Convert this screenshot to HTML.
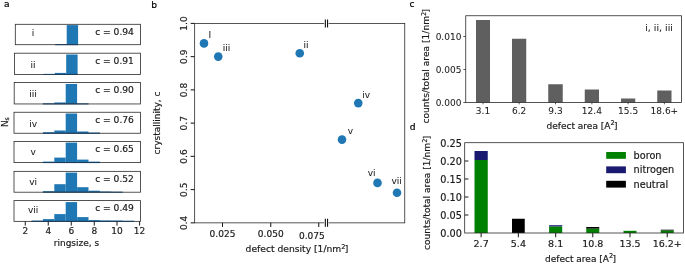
<!DOCTYPE html>
<html lang="en">
<head>
<meta charset="utf-8">
<title>Figure: crystallinity and defect statistics</title>
<style>
html,body{margin:0;padding:0;background:#fff;}
body{width:685px;height:264px;overflow:hidden;}
svg{display:block;font-family:"DejaVu Sans","Liberation Sans",sans-serif;}
text{fill:#1a1a1a;stroke:#1a1a1a;stroke-width:0.18px;}
text.rn{stroke-width:0.05px;}
text.pl{fill:#000;stroke:#000;stroke-width:0.2px;}
</style>
</head>
<body>
<svg width="685" height="264" viewBox="0 0 685 264">
<rect x="0" y="0" width="685" height="264" fill="#ffffff"/>
<text class="pl" x="3.9" y="7.0" font-size="9.1">a</text>
<rect x="55.30" y="44.10" width="11.40" height="0.60" fill="#1f77b4"/>
<rect x="66.70" y="25.10" width="11.40" height="19.60" fill="#1f77b4"/>
<rect x="15.3" y="24.3" width="125.20" height="20.40" fill="none" stroke="#2a2a2a" stroke-width="0.8"/>
<line x1="55.3" y1="44.7" x2="78.1" y2="44.7" stroke="#173a5c" stroke-width="0.9"/>
<text x="33.1" y="36.45" font-size="9.0" text-anchor="middle" class="rn">i</text>
<text x="95.2" y="35.05" font-size="9.12" text-anchor="start">c = 0.94</text>
<rect x="43.40" y="74.00" width="11.40" height="0.40" fill="#1f77b4"/>
<rect x="54.80" y="72.90" width="11.40" height="1.50" fill="#1f77b4"/>
<rect x="66.20" y="54.50" width="11.40" height="19.90" fill="#1f77b4"/>
<rect x="14.4" y="53.2" width="126.10" height="21.20" fill="none" stroke="#2a2a2a" stroke-width="0.8"/>
<line x1="43.4" y1="74.4" x2="77.6" y2="74.4" stroke="#173a5c" stroke-width="0.9"/>
<text x="33.1" y="67.95" font-size="9.0" text-anchor="middle" class="rn">ii</text>
<text x="95.2" y="64.0" font-size="9.12" text-anchor="start">c = 0.91</text>
<rect x="42.90" y="103.55" width="11.40" height="0.40" fill="#1f77b4"/>
<rect x="54.30" y="102.45" width="11.40" height="1.50" fill="#1f77b4"/>
<rect x="65.70" y="83.95" width="11.40" height="20.00" fill="#1f77b4"/>
<rect x="77.10" y="103.65" width="11.40" height="0.30" fill="#1f77b4"/>
<rect x="14.2" y="82.5" width="126.30" height="21.45" fill="none" stroke="#2a2a2a" stroke-width="0.8"/>
<line x1="42.9" y1="103.95" x2="88.5" y2="103.95" stroke="#173a5c" stroke-width="0.9"/>
<text x="33.1" y="97.15" font-size="9.0" text-anchor="middle" class="rn">iii</text>
<text x="95.2" y="93.4" font-size="9.12" text-anchor="start">c = 0.90</text>
<rect x="42.90" y="132.25" width="11.40" height="1.00" fill="#1f77b4"/>
<rect x="54.30" y="130.50" width="11.40" height="2.75" fill="#1f77b4"/>
<rect x="65.70" y="113.50" width="11.40" height="19.75" fill="#1f77b4"/>
<rect x="77.10" y="131.50" width="11.40" height="1.75" fill="#1f77b4"/>
<rect x="88.50" y="132.65" width="11.40" height="0.60" fill="#1f77b4"/>
<rect x="14.0" y="112.25" width="126.50" height="21.00" fill="none" stroke="#2a2a2a" stroke-width="0.8"/>
<line x1="42.9" y1="133.25" x2="99.9" y2="133.25" stroke="#173a5c" stroke-width="0.9"/>
<text x="33.1" y="127.35" font-size="9.0" text-anchor="middle" class="rn">iv</text>
<text x="95.2" y="122.85" font-size="9.12" text-anchor="start">c = 0.76</text>
<rect x="42.90" y="161.60" width="11.40" height="1.00" fill="#1f77b4"/>
<rect x="54.30" y="157.60" width="11.40" height="5.00" fill="#1f77b4"/>
<rect x="65.70" y="142.60" width="11.40" height="20.00" fill="#1f77b4"/>
<rect x="77.10" y="159.60" width="11.40" height="3.00" fill="#1f77b4"/>
<rect x="88.50" y="161.60" width="11.40" height="1.00" fill="#1f77b4"/>
<rect x="14.0" y="141.55" width="126.50" height="21.05" fill="none" stroke="#2a2a2a" stroke-width="0.8"/>
<line x1="42.9" y1="162.6" x2="99.9" y2="162.6" stroke="#173a5c" stroke-width="0.9"/>
<text x="33.1" y="154.9" font-size="9.0" text-anchor="middle" class="rn">v</text>
<text x="95.2" y="152.15" font-size="9.12" text-anchor="start">c = 0.65</text>
<rect x="42.90" y="191.20" width="11.40" height="1.00" fill="#1f77b4"/>
<rect x="54.30" y="184.20" width="11.40" height="8.00" fill="#1f77b4"/>
<rect x="65.70" y="172.60" width="11.40" height="19.60" fill="#1f77b4"/>
<rect x="77.10" y="187.20" width="11.40" height="5.00" fill="#1f77b4"/>
<rect x="88.50" y="190.70" width="11.40" height="1.50" fill="#1f77b4"/>
<rect x="99.90" y="191.60" width="11.40" height="0.60" fill="#1f77b4"/>
<rect x="111.30" y="191.90" width="11.40" height="0.30" fill="#1f77b4"/>
<rect x="14.0" y="171.35" width="126.50" height="20.85" fill="none" stroke="#2a2a2a" stroke-width="0.8"/>
<line x1="42.9" y1="192.2" x2="122.7" y2="192.2" stroke="#173a5c" stroke-width="0.9"/>
<text x="33.1" y="185.25" font-size="9.0" text-anchor="middle" class="rn">vi</text>
<text x="95.2" y="181.6" font-size="9.12" text-anchor="start">c = 0.52</text>
<rect x="31.50" y="220.60" width="11.40" height="0.75" fill="#1f77b4"/>
<rect x="42.90" y="219.10" width="11.40" height="2.25" fill="#1f77b4"/>
<rect x="54.30" y="214.10" width="11.40" height="7.25" fill="#1f77b4"/>
<rect x="65.70" y="202.10" width="11.40" height="19.25" fill="#1f77b4"/>
<rect x="77.10" y="217.10" width="11.40" height="4.25" fill="#1f77b4"/>
<rect x="88.50" y="220.10" width="11.40" height="1.25" fill="#1f77b4"/>
<rect x="99.90" y="220.45" width="11.40" height="0.90" fill="#1f77b4"/>
<rect x="111.30" y="220.55" width="11.40" height="0.80" fill="#1f77b4"/>
<rect x="122.70" y="220.85" width="11.40" height="0.50" fill="#1f77b4"/>
<rect x="14.0" y="200.6" width="126.50" height="20.75" fill="none" stroke="#2a2a2a" stroke-width="0.8"/>
<line x1="31.5" y1="221.35" x2="134.1" y2="221.35" stroke="#173a5c" stroke-width="0.9"/>
<text x="33.1" y="213.05" font-size="9.0" text-anchor="middle" class="rn">vii</text>
<text x="95.2" y="210.79999999999998" font-size="9.12" text-anchor="start">c = 0.49</text>
<line x1="25.25" y1="221.35" x2="25.25" y2="225.6" stroke="#1a1a1a" stroke-width="1.0"/>
<text x="25.25" y="234.0" font-size="9.0" text-anchor="middle">2</text>
<line x1="48.25" y1="221.35" x2="48.25" y2="225.6" stroke="#1a1a1a" stroke-width="1.0"/>
<text x="48.25" y="234.0" font-size="9.0" text-anchor="middle">4</text>
<line x1="71.25" y1="221.35" x2="71.25" y2="225.6" stroke="#1a1a1a" stroke-width="1.0"/>
<text x="71.25" y="234.0" font-size="9.0" text-anchor="middle">6</text>
<line x1="94.25" y1="221.35" x2="94.25" y2="225.6" stroke="#1a1a1a" stroke-width="1.0"/>
<text x="94.25" y="234.0" font-size="9.0" text-anchor="middle">8</text>
<line x1="117.0" y1="221.35" x2="117.0" y2="225.6" stroke="#1a1a1a" stroke-width="1.0"/>
<text x="117.0" y="234.0" font-size="9.0" text-anchor="middle">10</text>
<line x1="139.6" y1="221.35" x2="139.6" y2="225.6" stroke="#1a1a1a" stroke-width="1.0"/>
<text x="139.6" y="234.0" font-size="9.0" text-anchor="middle">12</text>
<text x="76.5" y="246.0" font-size="9.0" text-anchor="middle">ringsize, s</text>
<text x="7.7" y="122.1" font-size="9.0" text-anchor="middle" transform="rotate(-90 7.7 122.1)">N<tspan dy="1.4" font-size="6.3">s</tspan></text>
<text class="pl" x="151.3" y="8.0" font-size="9.1">b</text>
<rect x="194.65" y="23.4" width="210.10" height="199.45" fill="none" stroke="#2a2a2a" stroke-width="0.8"/>
<line x1="190.65" y1="23.4" x2="194.65" y2="23.4" stroke="#1a1a1a" stroke-width="1.05"/>
<text x="187.35" y="23.5" font-size="9.0" text-anchor="middle" transform="rotate(-90 187.35 23.5)">1.0</text>
<line x1="190.65" y1="56.64" x2="194.65" y2="56.64" stroke="#1a1a1a" stroke-width="1.05"/>
<text x="187.35" y="56.74" font-size="9.0" text-anchor="middle" transform="rotate(-90 187.35 56.74)">0.9</text>
<line x1="190.65" y1="89.88" x2="194.65" y2="89.88" stroke="#1a1a1a" stroke-width="1.05"/>
<text x="187.35" y="89.97999999999999" font-size="9.0" text-anchor="middle" transform="rotate(-90 187.35 89.97999999999999)">0.8</text>
<line x1="190.65" y1="123.12" x2="194.65" y2="123.12" stroke="#1a1a1a" stroke-width="1.05"/>
<text x="187.35" y="123.22" font-size="9.0" text-anchor="middle" transform="rotate(-90 187.35 123.22)">0.7</text>
<line x1="190.65" y1="156.36" x2="194.65" y2="156.36" stroke="#1a1a1a" stroke-width="1.05"/>
<text x="187.35" y="156.46" font-size="9.0" text-anchor="middle" transform="rotate(-90 187.35 156.46)">0.6</text>
<line x1="190.65" y1="189.60000000000002" x2="194.65" y2="189.60000000000002" stroke="#1a1a1a" stroke-width="1.05"/>
<text x="187.35" y="189.70000000000002" font-size="9.0" text-anchor="middle" transform="rotate(-90 187.35 189.70000000000002)">0.5</text>
<line x1="190.65" y1="222.84" x2="194.65" y2="222.84" stroke="#1a1a1a" stroke-width="1.05"/>
<text x="187.35" y="222.94" font-size="9.0" text-anchor="middle" transform="rotate(-90 187.35 222.94)">0.4</text>
<text x="160.3" y="123" font-size="9.0" text-anchor="middle" transform="rotate(-90 160.3 123)">crystallinity, c</text>
<line x1="222.5" y1="222.85" x2="222.5" y2="226.95" stroke="#1a1a1a" stroke-width="1.05"/>
<text x="222.5" y="236.7" font-size="9.0" text-anchor="middle">0.025</text>
<line x1="270.75" y1="222.85" x2="270.75" y2="226.95" stroke="#1a1a1a" stroke-width="1.05"/>
<text x="270.75" y="236.7" font-size="9.0" text-anchor="middle">0.050</text>
<line x1="318.75" y1="222.85" x2="318.75" y2="226.95" stroke="#1a1a1a" stroke-width="1.05"/>
<text x="311.9" y="239.0" font-size="9.0" text-anchor="middle">0.075</text>
<text x="297" y="251.9" font-size="9.18" text-anchor="middle">defect density [1/nm<tspan dy="-3.4" font-size="6.6">2</tspan><tspan dy="3.4" dx="-0.7">]</tspan></text>
<rect x="324.20" y="22.20" width="4.40" height="2.40" fill="#fff"/>
<line x1="325.35" y1="19.4" x2="325.35" y2="27.4" stroke="#111" stroke-width="1.1"/>
<line x1="327.55" y1="19.4" x2="327.55" y2="27.4" stroke="#111" stroke-width="1.1"/>
<rect x="324.20" y="221.65" width="4.40" height="2.40" fill="#fff"/>
<line x1="325.35" y1="218.85" x2="325.35" y2="226.85" stroke="#111" stroke-width="1.1"/>
<line x1="327.55" y1="218.85" x2="327.55" y2="226.85" stroke="#111" stroke-width="1.1"/>
<circle cx="204" cy="43.4" r="4.3" fill="#1f77b4"/>
<text x="208.6" y="38.2" font-size="9.0" text-anchor="start" class="rn">I</text>
<circle cx="218.25" cy="56.6" r="4.3" fill="#1f77b4"/>
<text x="222.8" y="50.8" font-size="9.0" text-anchor="start" class="rn">iii</text>
<circle cx="299.75" cy="53.3" r="4.3" fill="#1f77b4"/>
<text x="303.6" y="48.0" font-size="9.0" text-anchor="start" class="rn">ii</text>
<circle cx="358.25" cy="103.1" r="4.3" fill="#1f77b4"/>
<text x="362.3" y="98.0" font-size="9.0" text-anchor="start" class="rn">iv</text>
<circle cx="342" cy="139.6" r="4.3" fill="#1f77b4"/>
<text x="347.8" y="133.5" font-size="9.0" text-anchor="start" class="rn">v</text>
<circle cx="377.5" cy="182.9" r="4.3" fill="#1f77b4"/>
<text x="367.8" y="176.0" font-size="9.0" text-anchor="start" class="rn">vi</text>
<circle cx="397" cy="192.7" r="4.3" fill="#1f77b4"/>
<text x="391.5" y="183.8" font-size="9.0" text-anchor="start" class="rn">vii</text>
<text class="pl" x="409.6" y="7.0" font-size="9.1">c</text>
<rect x="476.00" y="20.00" width="14.00" height="82.50" fill="#5f5f5f"/>
<rect x="512.00" y="38.75" width="14.25" height="63.75" fill="#5f5f5f"/>
<rect x="548.25" y="84.25" width="14.50" height="18.25" fill="#5f5f5f"/>
<rect x="584.75" y="89.50" width="14.25" height="13.00" fill="#5f5f5f"/>
<rect x="621.00" y="98.50" width="14.25" height="4.00" fill="#5f5f5f"/>
<rect x="657.25" y="90.50" width="14.25" height="12.00" fill="#5f5f5f"/>
<rect x="465.75" y="15.75" width="215.75" height="86.75" fill="none" stroke="#2a2a2a" stroke-width="0.8"/>
<line x1="463.35" y1="102.5" x2="465.75" y2="102.5" stroke="#2a2a2a" stroke-width="0.8"/>
<text x="461.4" y="106.4" font-size="9.0" text-anchor="end" class="rn">0.000</text>
<line x1="463.35" y1="69.5" x2="465.75" y2="69.5" stroke="#2a2a2a" stroke-width="0.8"/>
<text x="461.4" y="73.4" font-size="9.0" text-anchor="end" class="rn">0.005</text>
<line x1="463.35" y1="36.5" x2="465.75" y2="36.5" stroke="#2a2a2a" stroke-width="0.8"/>
<text x="461.4" y="40.4" font-size="9.0" text-anchor="end" class="rn">0.010</text>
<line x1="483.0" y1="102.5" x2="483.0" y2="104.3" stroke="#2a2a2a" stroke-width="0.8"/>
<text x="483.0" y="114.05" font-size="9.0" text-anchor="middle" class="rn">3.1</text>
<line x1="519.125" y1="102.5" x2="519.125" y2="104.3" stroke="#2a2a2a" stroke-width="0.8"/>
<text x="519.125" y="114.05" font-size="9.0" text-anchor="middle" class="rn">6.2</text>
<line x1="555.5" y1="102.5" x2="555.5" y2="104.3" stroke="#2a2a2a" stroke-width="0.8"/>
<text x="555.5" y="114.05" font-size="9.0" text-anchor="middle" class="rn">9.3</text>
<line x1="591.875" y1="102.5" x2="591.875" y2="104.3" stroke="#2a2a2a" stroke-width="0.8"/>
<text x="591.875" y="114.05" font-size="9.0" text-anchor="middle" class="rn">12.4</text>
<line x1="628.125" y1="102.5" x2="628.125" y2="104.3" stroke="#2a2a2a" stroke-width="0.8"/>
<text x="628.125" y="114.05" font-size="9.0" text-anchor="middle" class="rn">15.5</text>
<line x1="664.375" y1="102.5" x2="664.375" y2="104.3" stroke="#2a2a2a" stroke-width="0.8"/>
<text x="664.375" y="114.05" font-size="9.0" text-anchor="middle" class="rn">18.6+</text>
<text x="582" y="128.5" font-size="9.0" text-anchor="middle">defect area [A<tspan dy="-3.4" font-size="6.6">2</tspan><tspan dy="3.4" dx="-0.7">]</tspan></text>
<text x="429.2" y="66.2" font-size="9.13" text-anchor="middle" transform="rotate(-90 429.2 66.2)">counts/total area [1/nm<tspan dy="-3.4" font-size="6.6">2</tspan><tspan dy="3.4" dx="-0.7">]</tspan></text>
<text x="672.9" y="30.9" font-size="9.45" text-anchor="end" class="rn">i, ii, iii</text>
<text class="pl" x="409.8" y="129.6" font-size="9.1">d</text>
<rect x="474.50" y="160.00" width="13.25" height="73.00" fill="#008000"/>
<rect x="474.50" y="151.00" width="13.25" height="9.00" fill="#191970"/>
<rect x="512.00" y="218.75" width="12.75" height="14.25" fill="#000"/>
<rect x="549.10" y="226.40" width="13.10" height="6.60" fill="#008000"/>
<rect x="549.10" y="225.20" width="13.10" height="1.20" fill="#191970"/>
<rect x="586.25" y="228.60" width="13.00" height="4.40" fill="#008000"/>
<rect x="586.25" y="227.00" width="13.00" height="1.60" fill="#000"/>
<rect x="623.50" y="230.80" width="13.00" height="2.20" fill="#008000"/>
<rect x="660.75" y="230.50" width="13.00" height="2.50" fill="#008000"/>
<rect x="660.75" y="229.70" width="13.00" height="0.80" fill="#000"/>
<rect x="464.7" y="142.7" width="218.70" height="90.30" fill="none" stroke="#2a2a2a" stroke-width="0.8"/>
<text x="461.9" y="236.8" font-size="9.7" text-anchor="end">0.00</text>
<line x1="464.7" y1="215.0" x2="468.4" y2="215.0" stroke="#2a2a2a" stroke-width="1.1"/>
<text x="461.9" y="218.8" font-size="9.7" text-anchor="end">0.05</text>
<line x1="464.7" y1="197.0" x2="468.4" y2="197.0" stroke="#2a2a2a" stroke-width="1.1"/>
<text x="461.9" y="200.8" font-size="9.7" text-anchor="end">0.10</text>
<line x1="464.7" y1="179.0" x2="468.4" y2="179.0" stroke="#2a2a2a" stroke-width="1.1"/>
<text x="461.9" y="182.8" font-size="9.7" text-anchor="end">0.15</text>
<line x1="464.7" y1="161.0" x2="468.4" y2="161.0" stroke="#2a2a2a" stroke-width="1.1"/>
<text x="461.9" y="164.8" font-size="9.7" text-anchor="end">0.20</text>
<text x="461.9" y="146.8" font-size="9.7" text-anchor="end">0.25</text>
<line x1="481.125" y1="233.0" x2="481.125" y2="237.2" stroke="#2a2a2a" stroke-width="1.1"/>
<text x="481.125" y="247.2" font-size="9.5" text-anchor="middle">2.7</text>
<line x1="518.375" y1="233.0" x2="518.375" y2="237.2" stroke="#2a2a2a" stroke-width="1.1"/>
<text x="518.375" y="247.2" font-size="9.5" text-anchor="middle">5.4</text>
<line x1="555.6500000000001" y1="233.0" x2="555.6500000000001" y2="237.2" stroke="#2a2a2a" stroke-width="1.1"/>
<text x="555.6500000000001" y="247.2" font-size="9.5" text-anchor="middle">8.1</text>
<line x1="592.75" y1="233.0" x2="592.75" y2="237.2" stroke="#2a2a2a" stroke-width="1.1"/>
<text x="592.75" y="247.2" font-size="9.5" text-anchor="middle">10.8</text>
<line x1="630.0" y1="233.0" x2="630.0" y2="237.2" stroke="#2a2a2a" stroke-width="1.1"/>
<text x="630.0" y="247.2" font-size="9.5" text-anchor="middle">13.5</text>
<line x1="667.25" y1="233.0" x2="667.25" y2="237.2" stroke="#2a2a2a" stroke-width="1.1"/>
<text x="667.25" y="247.2" font-size="9.5" text-anchor="middle">16.2+</text>
<text x="580.5" y="261.5" font-size="9.0" text-anchor="middle">defect area [A<tspan dy="-3.4" font-size="6.6">2</tspan><tspan dy="3.4" dx="-0.7">]</tspan></text>
<text x="430.2" y="192.9" font-size="9.1" text-anchor="middle" transform="rotate(-90 430.2 192.9)">counts/total area [1/nm<tspan dy="-3.4" font-size="6.6">2</tspan><tspan dy="3.4" dx="-0.7">]</tspan></text>
<rect x="606.20" y="152.00" width="19.70" height="6.80" fill="#008000"/>
<text x="633.6" y="158.85" font-size="9.7" text-anchor="start">boron</text>
<rect x="606.20" y="166.40" width="19.70" height="6.80" fill="#191970"/>
<text x="633.6" y="173.25" font-size="9.7" text-anchor="start">nitrogen</text>
<rect x="606.20" y="180.80" width="19.70" height="6.80" fill="#000"/>
<text x="633.6" y="187.65" font-size="9.7" text-anchor="start">neutral</text>
</svg>
</body>
</html>
